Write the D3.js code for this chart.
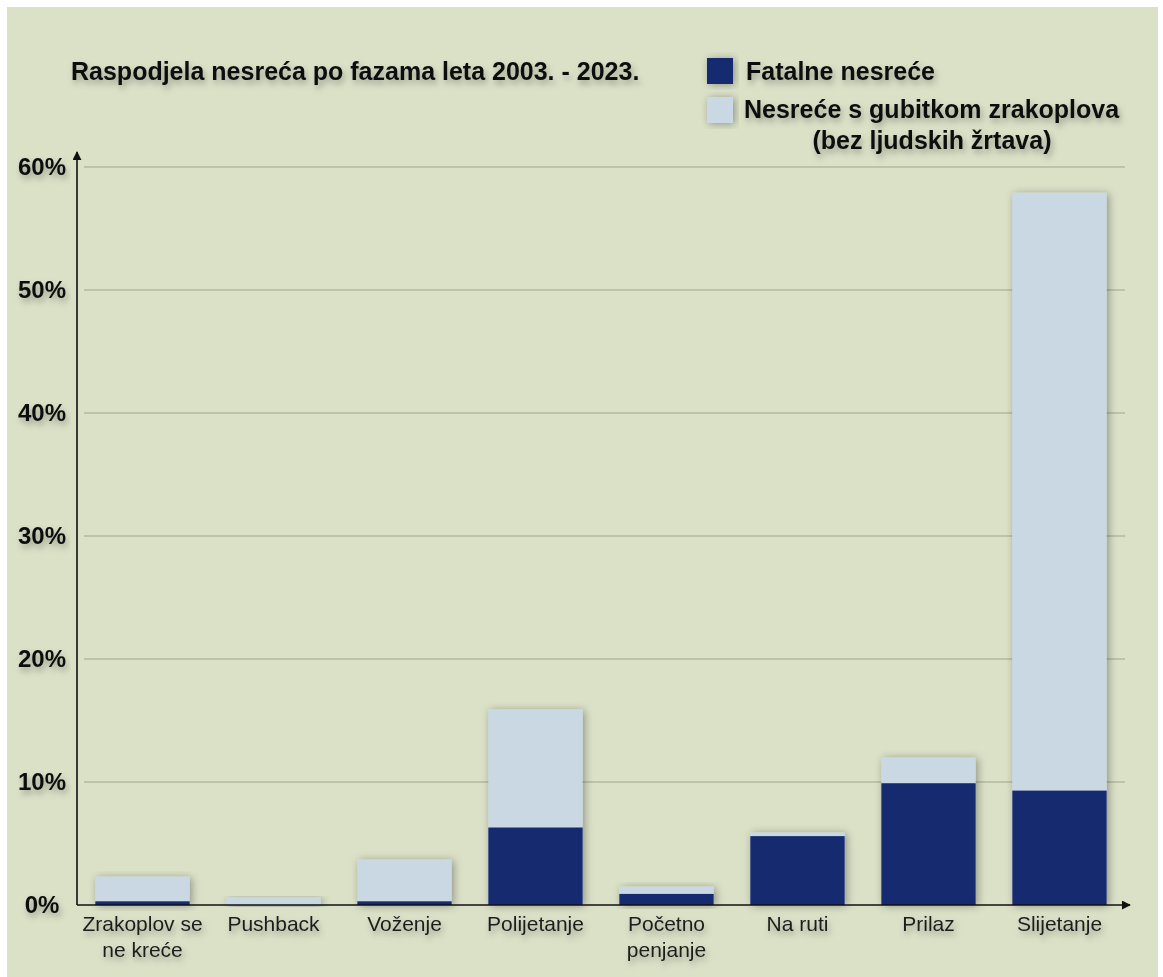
<!DOCTYPE html>
<html>
<head>
<meta charset="utf-8">
<script src="https://cdn.jsdelivr.net/npm/d3@7"></script>
<style>
  body { margin: 0; background: #ffffff; }
  text { font-family: "Liberation Sans", Arial, sans-serif; }
</style>
</head>
<body>
<script>
// faze leta
const categories = [
  ["Zrakoplov se", "ne kreće"],
  ["Pushback"],
  ["Voženje"],
  ["Polijetanje"],
  ["Početno", "penjanje"],
  ["Na ruti"],
  ["Prilaz"],
  ["Slijetanje"]
];
// postotci (%)
const fatal = [0.3, 0.0, 0.3, 6.3, 0.9, 5.6, 9.9, 9.3];
const hullLoss = [2.0, 0.6, 3.4, 9.6, 0.6, 0.3, 2.1, 48.6];
const yTicks = [0, 10, 20, 30, 40, 50, 60];

const W = 1163, H = 977;
const svg = d3.select('body').append('svg')
  .attr('width', W).attr('height', H);

const defs = svg.append('defs');
const sh = defs.append('filter').attr('id', 'shadow')
  .attr('x', '-20%').attr('y', '-20%').attr('width', '140%').attr('height', '140%');
sh.append('feDropShadow').attr('dx', 2).attr('dy', 1).attr('stdDeviation', 4)
  .attr('flood-color', '#000').attr('flood-opacity', 0.35);
const tsh = defs.append('filter').attr('id', 'tshadow')
  .attr('x', '-10%').attr('y', '-30%').attr('width', '120%').attr('height', '160%');
tsh.append('feDropShadow').attr('dx', 2).attr('dy', 4).attr('stdDeviation', 3)
  .attr('flood-color', '#000').attr('flood-opacity', 0.3);

// pozadina
svg.append('rect').attr('x', 7).attr('y', 7).attr('width', W - 12).attr('height', H - 7)
  .attr('fill', '#dbe1c7');

const x = d3.scaleBand().domain(d3.range(categories.length))
  .range([77, 1125]).paddingInner(0.28).paddingOuter(0.14);
const y = d3.scaleLinear().domain([0, 60]).range([905, 167]);

// mreža
svg.append('g').selectAll('line').data(yTicks.filter(d => d > 0)).join('line')
  .attr('x1', 84).attr('x2', 1125)
  .attr('y1', d => y(d)).attr('y2', d => y(d))
  .attr('stroke', '#b3b8a0').attr('stroke-width', 1.5);

// stupci
const bars = svg.append('g');
categories.forEach((c, i) => {
  const g = bars.append('g').attr('filter', 'url(#shadow)');
  g.append('rect').attr('x', x(i)).attr('width', x.bandwidth())
    .attr('y', y(fatal[i] + hullLoss[i])).attr('height', y(0) - y(fatal[i] + hullLoss[i]))
    .attr('fill', '#c9d8e3');
  if (fatal[i] > 0) {
    g.append('rect').attr('x', x(i)).attr('width', x.bandwidth())
      .attr('y', y(fatal[i])).attr('height', y(0) - y(fatal[i]))
      .attr('fill', '#172a6f');
  }
});

// osi
defs.append('marker').attr('id', 'arrow').attr('viewBox', '0 0 10 10')
  .attr('refX', 9).attr('refY', 5).attr('markerWidth', 9).attr('markerHeight', 9)
  .attr('markerUnits', 'userSpaceOnUse').attr('orient', 'auto')
  .append('path').attr('d', 'M0,0L10,5L0,10z').attr('fill', '#111');
svg.append('line').attr('x1', 77).attr('x2', 77).attr('y1', y(0)).attr('y2', 152)
  .attr('stroke', '#111').attr('stroke-width', 1.6).attr('marker-end', 'url(#arrow)');
svg.append('line').attr('x1', 77).attr('x2', 1130).attr('y1', y(0)).attr('y2', y(0))
  .attr('stroke', '#111').attr('stroke-width', 1.6).attr('marker-end', 'url(#arrow)');

// oznake y osi
svg.append('g').attr('filter', 'url(#tshadow)').selectAll('text').data(yTicks).join('text')
  .attr('x', 42).attr('y', d => y(d) + 8).attr('text-anchor', 'middle')
  .attr('font-size', 24).attr('font-weight', 'bold').attr('fill', '#111')
  .text(d => d + '%');

// oznake kategorija
const cl = svg.append('g').attr('filter', 'url(#tshadow)');
categories.forEach((c, i) => {
  const t = cl.append('text').attr('text-anchor', 'middle')
    .attr('x', x(i) + x.bandwidth() / 2).attr('y', 931)
    .attr('font-size', 21).attr('fill', '#1e1e1e');
  c.forEach((line, j) => {
    t.append('tspan').attr('x', x(i) + x.bandwidth() / 2).attr('dy', j ? 26 : 0).text(line);
  });
});

// naslov i legenda
const head = svg.append('g').attr('filter', 'url(#tshadow)');
head.append('text').attr('x', 71).attr('y', 80)
  .attr('font-size', 25).attr('font-weight', 'bold').attr('fill', '#111')
  .text('Raspodjela nesreća po fazama leta 2003. - 2023.');

svg.append('rect').attr('x', 707).attr('y', 58).attr('width', 26).attr('height', 26)
  .attr('fill', '#172a6f').attr('filter', 'url(#shadow)');
svg.append('rect').attr('x', 707).attr('y', 97).attr('width', 26).attr('height', 26)
  .attr('fill', '#c9d8e3').attr('filter', 'url(#shadow)');
head.append('text').attr('x', 746).attr('y', 80)
  .attr('font-size', 25).attr('font-weight', 'bold').attr('fill', '#111')
  .text('Fatalne nesreće');
head.append('text').attr('x', 744).attr('y', 118)
  .attr('font-size', 25).attr('font-weight', 'bold').attr('fill', '#111')
  .text('Nesreće s gubitkom zrakoplova');
head.append('text').attr('x', 932).attr('y', 149).attr('text-anchor', 'middle')
  .attr('font-size', 25).attr('font-weight', 'bold').attr('fill', '#111')
  .text('(bez ljudskih žrtava)');
</script>
</body>
</html>
